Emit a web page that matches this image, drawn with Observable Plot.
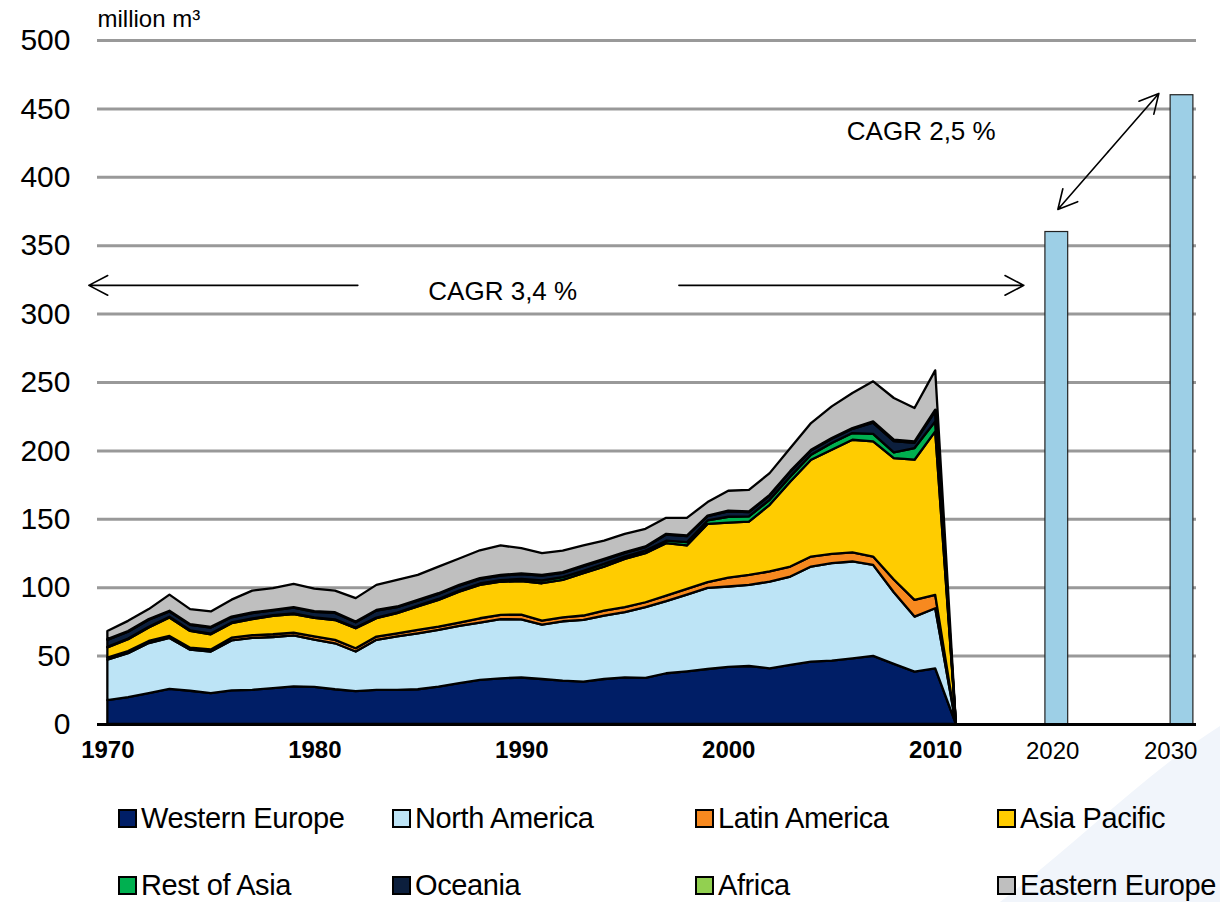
<!DOCTYPE html>
<html><head><meta charset="utf-8">
<script src="https://cdn.jsdelivr.net/npm/d3@7"></script>
<script src="https://cdn.jsdelivr.net/npm/@observablehq/plot@0.6"></script>
<style>
html,body{margin:0;padding:0;background:#fff;overflow:hidden;width:1220px;height:902px;}
body{font-family:"Liberation Sans",Arial,sans-serif;position:relative;}
#swoosh{position:absolute;left:0;top:0;}
#chart{position:absolute;left:0;top:0;}
#legend{position:absolute;left:118px;top:785px;display:grid;grid-template-columns:274px 303px 302px 223px;grid-auto-rows:67px;}
.item{display:flex;align-items:center;font-size:29px;color:#000;white-space:nowrap;letter-spacing:-0.4px;}
.sw{width:15px;height:15px;border:2px solid #000;margin-right:4px;flex:none;}
</style></head><body>
<svg id="swoosh" width="1220" height="902"><path d="M1000,902 C1080,840 1150,770 1220,726 L1220,902 Z" fill="#f1f5fb"/></svg>
<div id="chart"></div>
<div id="legend"></div>
<script>
const years = d3.range(1970, 2012);
const regions = ["Western Europe","North America","Latin America","Asia Pacific","Rest of Asia","Oceania","Africa","Eastern Europe"];
const colors = ["#001e66","#bde4f6","#f7891f","#ffcc00","#00b050","#0c1f3d","#92d050","#bfbfbf"];

const westernEurope = [17.5,19.7,22.6,25.6,24.3,22.6,24.6,25.0,26.3,27.5,27.2,25.4,24.1,24.9,24.9,25.4,27.3,29.8,32.2,33.4,34.0,32.9,31.7,31.0,32.9,34.1,33.7,37.1,38.5,40.2,41.8,42.4,40.7,43.2,45.6,46.3,48.0,49.8,43.9,38.3,40.7,0];
const northAmerica = [29.5,32.1,36.6,37.3,30.0,30.4,36.5,37.9,37.3,37.3,34.5,33.6,28.9,36.6,39.1,40.9,41.5,41.9,41.9,43.2,42.5,39.8,43.4,45.1,46.4,47.6,51.7,52.7,56.1,59.3,58.7,59.3,63.4,64.6,69.5,71.3,70.8,66.5,52.4,40.2,43.9,0];
const latinAmerica = [1.5,1.5,1.5,1.5,1.5,1.5,2.0,2.0,2.0,2.0,2.3,2.5,2.4,2.4,2.3,2.5,2.4,2.4,3.2,3.2,3.5,2.9,2.9,3.2,3.6,3.7,3.6,4.1,4.2,4.2,6.5,7.3,7.4,7.3,7.3,6.8,6.6,6.1,9.3,12.2,9.8,0];
const asiaPacific = [7.5,8.7,9.8,13.5,12.2,11.1,10.6,11.8,13.5,13.5,13.5,14.5,14.6,13.4,14.7,17.1,19.5,22.7,24.4,24.2,24.5,27.3,27.4,30.9,32.1,35.3,35.9,38.3,31.7,42.6,40.2,39.0,48.7,62.2,70.8,76.1,82.4,84.2,88.8,102.5,119.5,0];
const restOfAsia = [0.5,0.5,0.5,0.5,0.5,0.5,0.5,0.5,0.5,0.5,0.5,0.5,0.5,0.5,0.5,0.6,0.7,0.8,1.0,1.2,1.5,2.0,1.9,1.8,2.0,1.7,1.9,1.8,2.4,2.5,4.3,3.7,3.7,3.7,3.6,4.9,4.9,5.5,4.1,8.5,7.3,0];
const oceania = [5.0,5.0,5.2,3.9,4.0,4.4,3.8,3.9,3.4,4.2,4.0,4.7,3.9,5.1,3.9,3.7,3.7,3.6,3.4,3.3,3.5,3.6,3.2,3.4,3.2,2.7,2.5,4.5,4.4,3.1,4.0,3.2,3.1,3.5,3.2,3.1,3.1,8.1,8.3,3.9,7.6,0];
const africa = [0.5,0.5,0.5,0.5,0.5,0.5,0.5,0.5,0.5,0.5,0.5,0.5,0.5,0.5,0.5,0.5,0.5,0.5,0.5,0.5,0.5,0.5,0.5,0.5,0.5,0.5,0.5,0.5,0.5,0.5,0.5,0.5,0.5,0.5,0.5,0.5,0.5,1.0,1.0,1.0,1.0,0];
const easternEurope = [6.0,7.4,7.3,11.8,11.0,11.3,12.4,15.9,15.8,17.0,16.5,15.8,17.1,18.3,19.5,18.3,19.4,19.3,20.4,21.5,18.5,15.9,15.8,14.6,13.3,13.4,12.9,11.7,12.9,9.8,14.5,15.8,15.9,16.7,19.5,23.2,25.7,29.3,30.5,24.4,28.7,0];

const projYears = [2020, 2030];
const projValues = [360, 460];
const yTicks = [0,50,100,150,200,250,300,350,400,450,500];
const xTickYears = [1970,1980,1990,2000,2010];

const series = [westernEurope,northAmerica,latinAmerica,asiaPacific,restOfAsia,oceania,africa,easternEurope];
const data = regions.flatMap((r,i) => years.map((yr,j) => ({region:r, year:yr, value:series[i][j]})));
const proj = projYears.map((yr,i) => ({year:yr, value:projValues[i]}));

// category-style axis: one slot per historical year, compressed slots for projections
const slot = yr => yr <= 2011 ? yr - 1970 : 45.85 + (yr - 2020) * 0.605;
const barHalf = 0.55;

const arrows = [
  {x1:12.08, y1:321, x2:-0.92, y2:321},
  {x1:27.59, y1:321, x2:44.26, y2:321},
  {x1:48.34, y1:418.9, x2:50.78, y2:461.3},
  {x1:48.34, y1:418.9, x2:45.9, y2:376.5}
];
const labels = [
  {x:19.08, y:316.5, text:"CAGR 3,4 %"},
  {x:39.3, y:433.5, text:"CAGR 2,5 %"}
];

const chart = Plot.plot({
  width:1220, height:770,
  marginLeft:97, marginRight:24, marginTop:40, marginBottom:46,
  x:{domain:[-0.5,52.6], axis:null},
  y:{domain:[0,500], axis:null},
  color:{domain:regions, range:colors},
  style:{fontFamily:'"Liberation Sans", Arial, sans-serif', background:"transparent", color:"#000"},
  marks:[
    Plot.ruleY(yTicks.filter(d => d > 0), {stroke:"#999", strokeWidth:3}),
    Plot.areaY(data, {x:d => slot(d.year), y:"value", z:"region", fill:"region", order:regions, stroke:"#000", strokeWidth:2.3, strokeLinejoin:"round"}),
    Plot.rectY(proj, {x1:d => slot(d.year) - barHalf, x2:d => slot(d.year) + barHalf, y:"value", fill:"#9dcfe6", stroke:"#222", strokeWidth:1.2}),
    Plot.ruleY([0], {stroke:"#000", strokeWidth:3}),
    Plot.text(yTicks, {x:-0.5, y:d => d, text:d => String(d), textAnchor:"end", dx:-27, fontSize:30, fill:"#000"}),
    Plot.text(xTickYears, {x:d => slot(d), y:0, dy:26, text:d => String(d), fontSize:24, fontWeight:"bold", fill:"#000"}),
    Plot.text(projYears, {x:d => slot(d) - (d === 2030 ? 0.55 : 0.2), y:0, dy:27, text:d => String(d), fontSize:24, fill:"#000"}),
    Plot.text(["million m³"], {x:-0.5, y:500, dy:-21, text:d => d, textAnchor:"start", fontSize:24, fill:"#000"}),
    Plot.arrow(arrows, {x1:"x1", y1:"y1", x2:"x2", y2:"y2", stroke:"#000", strokeWidth:1.6, headLength:20, headAngle:55, insetStart:0, insetEnd:0}),
    Plot.text(labels, {x:"x", y:"y", text:"text", fontSize:26, fill:"#000"})
  ]
});
document.getElementById("chart").appendChild(chart);

const legend = document.getElementById("legend");
regions.forEach((r, i) => {
  const it = document.createElement("div");
  it.className = "item";
  const sw = document.createElement("span");
  sw.className = "sw";
  sw.style.background = colors[i];
  it.appendChild(sw);
  it.appendChild(document.createTextNode(r));
  legend.appendChild(it);
});
</script>
</body></html>
